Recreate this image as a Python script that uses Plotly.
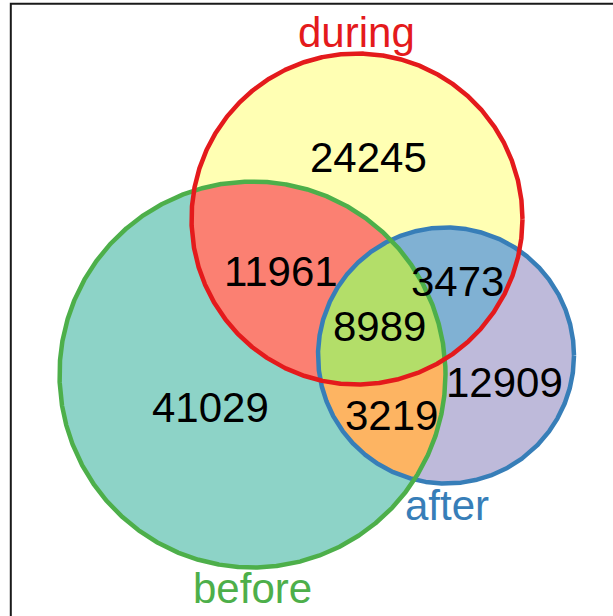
import numpy as np
import plotly.graph_objects as go

# ---- data ----
set_names = ["during", "before", "after"]
set_line_colors = ["#E41A1C", "#4DAF4A", "#377EB8"]

region_members = [(0,), (1,), (2,), (0, 1), (0, 2), (1, 2), (0, 1, 2)]
region_counts = [24245, 41029, 12909, 11961, 3473, 3219, 8989]
region_fills = ["#FFFFB3", "#8DD3C7", "#BEBADA", "#FB8072", "#80B1D3", "#FDB462", "#B3DE69"]

# ---- layout geometry (pixel-space coordinate system) ----
W, H = 613, 616
circle_cx = [357.0, 252.5, 446.0]
circle_cy = [219.0, 374.5, 355.5]
circle_r = [165.5, 193.0, 128.0]

count_pos_x = [368, 210, 504, 281, 457, 391.5, 379.5]
count_pos_y = [157, 407, 382, 271, 281, 415, 326]
label_pos_x = [356, 252.5, 446.5]
label_pos_y = [32, 588.5, 505.5]

FONT = "Liberation Sans, Arial, Helvetica, sans-serif"


def circle_pts(i, n=1440):
    t = np.linspace(0, 2 * np.pi, n, endpoint=False)
    return circle_cx[i] + circle_r[i] * np.cos(t), circle_cy[i] + circle_r[i] * np.sin(t)


def region_polygon(members):
    xs, ys = [], []
    for i in members:
        x, y = circle_pts(i)
        mask = np.ones_like(x, dtype=bool)
        for j in members:
            if j == i:
                continue
            d = np.hypot(x - circle_cx[j], y - circle_cy[j])
            mask &= d <= circle_r[j] + 1e-9
        xs.append(x[mask])
        ys.append(y[mask])
    x = np.concatenate(xs)
    y = np.concatenate(ys)
    mx, my = x.mean(), y.mean()
    order = np.argsort(np.arctan2(y - my, x - mx))
    x, y = x[order], y[order]
    return np.append(x, x[0]), np.append(y, y[0])


fig = go.Figure()

# fills: full circles first, then pairwise lenses, then triple
draw_order = [1, 0, 2, 3, 4, 5, 6]
for k in draw_order:
    x, y = region_polygon(region_members[k])
    fig.add_trace(go.Scatter(x=x, y=y, mode="lines", fill="toself",
                             fillcolor=region_fills[k], line=dict(width=0),
                             hoverinfo="skip", showlegend=False))

# outlines: after, before, during (red on top)
for i in [2, 1, 0]:
    x, y = circle_pts(i, 2000)
    fig.add_trace(go.Scatter(x=np.append(x, x[0]), y=np.append(y, y[0]), mode="lines",
                             line=dict(color=set_line_colors[i], width=4.5),
                             hoverinfo="skip", showlegend=False))

# counts
for k in range(len(region_counts)):
    fig.add_annotation(x=count_pos_x[k], y=count_pos_y[k], text=str(region_counts[k]),
                       showarrow=False, xanchor="center", yanchor="middle",
                       font=dict(family=FONT, size=42, color="black"))

# set labels
for i in range(3):
    fig.add_annotation(x=label_pos_x[i], y=label_pos_y[i], text=set_names[i],
                       showarrow=False, xanchor="center", yanchor="middle",
                       font=dict(family=FONT, size=42, color=set_line_colors[i]))

# frame
fig.add_shape(type="rect", x0=10.8, y0=3.8, x1=W + 20, y1=H + 20,
              line=dict(color="#1a1a1a", width=2), fillcolor="rgba(0,0,0,0)", layer="above")

fig.update_layout(
    width=W, height=H, margin=dict(l=0, r=0, t=0, b=0),
    paper_bgcolor="white", plot_bgcolor="white",
    xaxis=dict(range=[0, W], visible=False, fixedrange=True),
    yaxis=dict(range=[H, 0], visible=False, fixedrange=True),
)

fig.write_html("out.html", config={"displayModeBar": False},
               post_script="document.body.style.margin='0';document.body.style.overflow='hidden';")
